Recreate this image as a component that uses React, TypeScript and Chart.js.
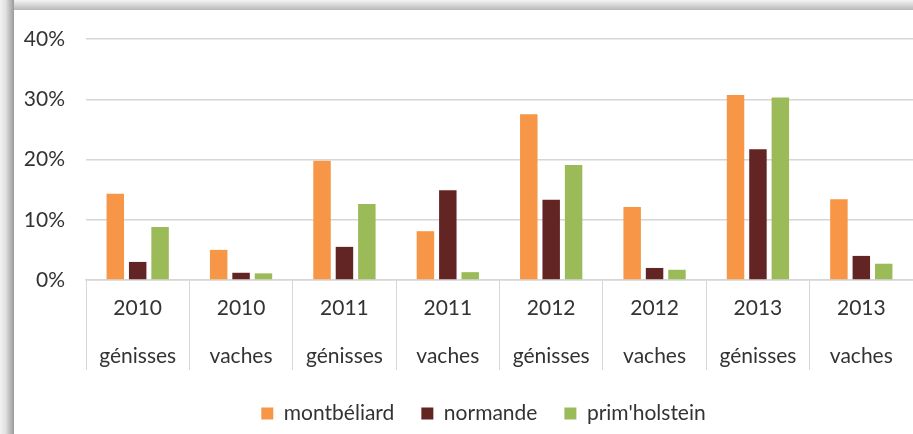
import React, { useEffect, useRef } from "react";
import { Chart, registerables } from "chart.js";

Chart.register(...registerables);

const years = ["2010", "2010", "2011", "2011", "2012", "2012", "2013", "2013"];
const kinds = ["génisses", "vaches", "génisses", "vaches", "génisses", "vaches", "génisses", "vaches"];
const montbeliard = [14.3, 5.0, 19.8, 8.1, 27.5, 12.1, 30.7, 13.4];
const normande = [3.0, 1.2, 5.5, 14.9, 13.3, 2.0, 21.7, 4.0];
const primHolstein = [8.8, 1.1, 12.6, 1.3, 19.1, 1.7, 30.3, 2.7];
const yTicks = [0, 10, 20, 30, 40];

const FONT = "Lato, 'Open Sans', sans-serif";
const TEXT = "#333333";
const GRID = "#d6d6d6";

const shiftLegend = {
  id: "shiftLegend",
  afterLayout(chart: any) {
    if (chart.legend) chart.legend.left += 40;
  },
};

export default function App() {
  const ref = useRef<HTMLCanvasElement | null>(null);

  useEffect(() => {
    if (!ref.current) return;
    const labels = years.map((y, i) => [y, kinds[i]]);
    const chart = new Chart(ref.current, {
      type: "bar",
      data: {
        labels,
        datasets: [
          { label: "montbéliard", data: montbeliard, backgroundColor: "#F79646" },
          { label: "normande", data: normande, backgroundColor: "#632523" },
          { label: "prim'holstein", data: primHolstein, backgroundColor: "#9BBB59" },
        ],
      },
      plugins: [shiftLegend],
      options: {
        animation: false,
        responsive: false,
        devicePixelRatio: 1,
        datasets: { bar: { categoryPercentage: 0.65, barPercentage: 0.78 } },
        layout: { padding: { left: 0, top: 29, right: 0, bottom: 0 } },
        plugins: {
          tooltip: { enabled: false },
          legend: {
            position: "bottom",
            labels: {
              boxWidth: 12,
              boxHeight: 12,
              padding: 27,
              color: TEXT,
              font: { family: FONT, size: 21 },
            },
          },
        },
        scales: {
          x: {
            offset: true,
            afterFit: (s: any) => {
              s.height = 96;
            },
            grid: {
              offset: true,
              drawOnChartArea: false,
              drawTicks: true,
              tickLength: 90,
              color: GRID,
              tickColor: GRID,
            },
            border: { display: true, color: GRID, width: 1.5 },
            ticks: {
              padding: -85,
              maxRotation: 0,
              autoSkip: false,
              color: TEXT,
              font: { family: FONT, size: 21, lineHeight: 2.25 },
            },
          },
          y: {
            min: 0,
            max: 40,
            afterFit: (s: any) => {
              s.width = 72;
            },
            afterBuildTicks: (s: any) => {
              s.ticks = yTicks.map((v) => ({ value: v }));
            },
            grid: {
              color: GRID,
              drawTicks: true,
              tickLength: 21,
              tickColor: "rgba(0,0,0,0)",
              lineWidth: 1.5,
            },
            border: { display: false },
            ticks: {
              padding: 0,
              color: TEXT,
              font: { family: FONT, size: 21 },
              callback: (v: any) => v + "%",
            },
          },
        },
      },
    });
    return () => chart.destroy();
  }, []);

  return (
    <div
      style={{
        position: "fixed",
        left: 0,
        top: 0,
        width: 913,
        height: 434,
        background: "#ffffff",
        overflow: "hidden",
      }}
    >
      <div
        style={{
          position: "absolute",
          left: 0,
          top: 0,
          width: 913,
          height: 10,
          background: "linear-gradient(to bottom, #f4f4f4, #b8b8b8)",
        }}
      />
      <div
        style={{
          position: "absolute",
          left: 0,
          top: 0,
          width: 14,
          height: 434,
          background: "linear-gradient(to right, #f2f2f2, #e0e0e0 40%, #9a9a9a)",
        }}
      />
      <canvas
        ref={ref}
        width={899}
        height={424}
        style={{ position: "absolute", left: 14, top: 10, width: 899, height: 424 }}
      />
    </div>
  );
}
